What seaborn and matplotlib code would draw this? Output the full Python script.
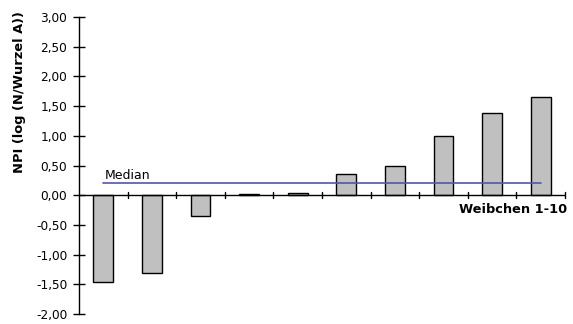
import matplotlib
matplotlib.use("Agg")
import matplotlib.pyplot as plt
import seaborn as sns
import pandas as pd
import numpy as np

categories = ["1", "2", "3", "4", "5", "6", "7", "8", "9", "10"]
npi_values = [-1.46, -1.31, -0.355, 0.015, 0.044, 0.364, 0.49, 1.0, 1.39, 1.66]
median_value = 0.2
ytick_values = [-2.0, -1.5, -1.0, -0.5, 0.0, 0.5, 1.0, 1.5, 2.0, 2.5, 3.0]

sns.set_style("white")
plt.rcParams['font.family'] = ['DejaVu Sans']
plt.rcParams['text.color'] = 'black'
plt.rcParams['ytick.color'] = 'black'
plt.rcParams['axes.labelcolor'] = 'black'

df = pd.DataFrame({"Weibchen": categories, "NPI": npi_values})

fig = plt.figure(figsize=(5.73, 3.24), dpi=100)
ax = fig.add_axes([79/573, 1 - 314/324, (565 - 79)/573, (314 - 17)/324])

sns.barplot(data=df, x="Weibchen", y="NPI", ax=ax, color="#c0c0c0",
            edgecolor="black", linewidth=1.0, width=0.41, saturation=1)

ax.set_xlim(-0.5, 9.5)
ax.set_ylim(-2.0, 3.0)

# median line from first to last category center
ax.plot([0, 9], [median_value, median_value], color="#5555aa", lw=1.2, zorder=1)
ax.text(0.02, median_value + 0.03, "Median", fontsize=9, ha="left", va="bottom", color="black")

for s in ["top", "right", "bottom"]:
    ax.spines[s].set_visible(False)
ax.spines["left"].set_color("black")
ax.spines["left"].set_linewidth(1.0)

# x axis at zero with ticks at category boundaries
ax.axhline(0, color="black", lw=1.0, zorder=3)
bounds = np.arange(-0.5, 10.0, 1.0)
ax.set_xticks([])
for b in bounds[1:]:
    ax.plot([b, b], [-0.05, 0.05], color="black", lw=1.0, zorder=3, clip_on=False)

ax.set_yticks(ytick_values)
ax.set_yticklabels([f"{v:.2f}".replace(".", ",") for v in ytick_values], fontsize=8.7)
ax.tick_params(axis="y", left=True, direction="inout", length=9, width=1.0,
               color="black", labelcolor="black", pad=4)

ax.set_xlabel("")
ax.set_ylabel("")
ax.text(9.55, -0.13, "Weibchen 1-10", fontsize=9.3, fontweight="bold", ha="right", va="top",
        color="black")
fig.text(20/573, 1 - 92/324, "NPI (log (N/Wurzel A))", fontsize=9.4, fontweight="bold",
         rotation=90, ha="center", va="center", color="black")

fig.savefig("out.png", dpi=100)
